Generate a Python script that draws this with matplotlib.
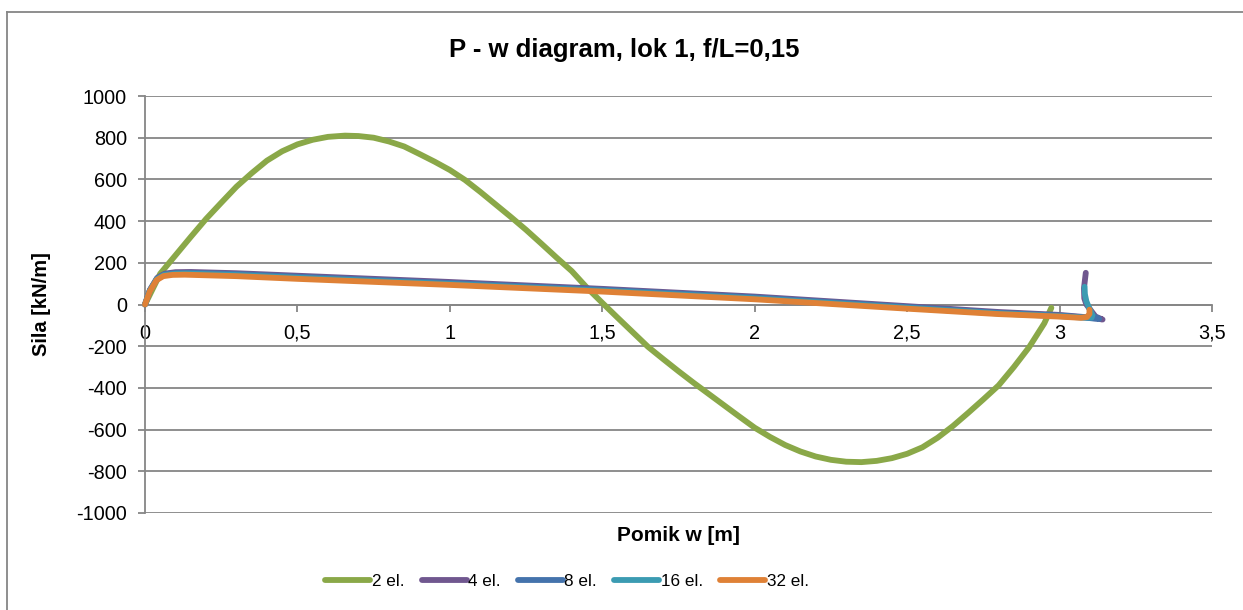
import matplotlib
matplotlib.use("Agg")
import matplotlib.pyplot as plt
from matplotlib.lines import Line2D

# Load-displacement paths for different numbers of elements
w_2el = [0, 0.05, 0.10, 0.15, 0.20, 0.25, 0.30, 0.35, 0.40, 0.45, 0.50, 0.55, 0.60,
         0.656, 0.70, 0.75, 0.80, 0.85, 0.90, 0.95, 1.00, 1.05, 1.10, 1.15, 1.20,
         1.25, 1.30, 1.35, 1.40, 1.45, 1.50, 1.55, 1.60, 1.65, 1.70, 1.75, 1.80,
         1.85, 1.90, 1.95, 2.00, 2.05, 2.10, 2.15, 2.20, 2.25, 2.30, 2.35, 2.40,
         2.45, 2.50, 2.55, 2.60, 2.65, 2.70, 2.75, 2.80, 2.85, 2.90, 2.95, 2.973]
P_2el = [0, 148, 236, 324, 410, 488, 565, 630, 690, 735, 768, 790, 804,
         810, 808, 800, 782, 758, 722, 685, 645, 597, 540, 480, 420,
         358, 292, 225, 160, 80, 8, -63, -133, -203, -262, -320, -376,
         -430, -484, -538, -591, -635, -674, -705, -729, -745, -754, -756, -750,
         -737, -716, -685, -639, -583, -520, -455, -388, -300, -205, -90, -16]

w_4el = [0, 0.016, 0.04, 0.065, 0.10, 0.15, 0.3, 0.5, 1.0, 1.5, 2.0, 2.5, 2.8, 3.0,
         3.08, 3.12, 3.141, 3.118, 3.104, 3.088, 3.081, 3.080, 3.086]
P_4el = [0, 70, 128, 148, 155, 156, 150, 138, 108, 75, 38, -8, -36, -50,
         -60, -67, -72, -58, -31, 0, 30, 78, 152]

w_8el = [0, 0.016, 0.04, 0.065, 0.10, 0.15, 0.3, 0.5, 1.0, 1.5, 2.0, 2.5, 2.8, 3.0,
         3.08, 3.11, 3.13, 3.115]
P_8el = [0, 68, 124, 145, 151, 152, 146, 133, 103, 71, 34, -12, -40, -53,
         -62, -67, -69, -58]

w_16el = [0, 0.016, 0.038, 0.062, 0.10, 0.14, 0.3, 0.5, 1.0, 1.5, 2.0, 2.5, 2.8, 3.0,
          3.08, 3.105, 3.108, 3.098, 3.088, 3.083, 3.082]
P_16el = [0, 66, 121, 141, 147, 148, 141, 128, 98, 66, 29, -16, -43, -56,
          -63, -63, -50, -20, 15, 50, 85]

w_32el = [0, 0.016, 0.038, 0.06, 0.09, 0.13, 0.3, 0.5, 1.0, 1.5, 2.0, 2.5, 2.8, 3.0,
          3.07, 3.09, 3.098, 3.098]
P_32el = [0, 64, 117, 136, 142, 143, 136, 123, 94, 62, 25, -20, -46, -58,
          -64, -60, -45, -25]

series_labels = ["2 el.", "4 el.", "8 el.", "16 el.", "32 el."]
series_colors = ["#8AA848", "#70578F", "#4473AC", "#3B9BB2", "#DF8136"]

x_ticks = [0, 0.5, 1, 1.5, 2, 2.5, 3, 3.5]
x_tick_labels = ["0", "0,5", "1", "1,5", "2", "2,5", "3", "3,5"]
y_ticks = [-1000, -800, -600, -400, -200, 0, 200, 400, 600, 800, 1000]

title = "P - w diagram, lok 1, f/L=0,15"
x_label = "Pomik w [m]"
y_label = "Sila [kN/m]"

plt.rcParams["font.family"] = ["Liberation Sans", "DejaVu Sans"]

W, H = 1243, 610
fig = plt.figure(figsize=(W / 100, H / 100), dpi=100)
ax = fig.add_axes([145 / W, 1 - 513 / H, (1212 - 145) / W, (513 - 96) / H])

grey = "#868686"

# chart frame (top and left edges)
fig.add_artist(Line2D([7 / W, 7 / W], [1 - 12 / H, 0], transform=fig.transFigure,
                      color=grey, lw=1.3))
fig.add_artist(Line2D([7 / W, 1], [1 - 12 / H, 1 - 12 / H], transform=fig.transFigure,
                      color=grey, lw=1.3))

ax.set_xlim(0, 3.5)
ax.set_ylim(-1000, 1000)
ax.set_yticks(y_ticks)
ax.set_yticklabels([str(v) for v in y_ticks])
ax.set_xticks(x_ticks)
ax.set_xticklabels(x_tick_labels)

ax.grid(axis="y", color=grey, lw=1.3)
ax.set_axisbelow(True)
for s in ["top", "right"]:
    ax.spines[s].set_visible(False)
ax.spines["left"].set_color(grey)
ax.spines["left"].set_linewidth(1.3)
ax.spines["bottom"].set_position(("data", 0))
ax.spines["bottom"].set_color(grey)
ax.spines["bottom"].set_linewidth(1.3)

ax.tick_params(axis="y", direction="out", length=5, width=1.3, color=grey,
               labelsize=14.3, pad=8)
ax.tick_params(axis="x", direction="out", length=5, width=1.3, color=grey,
               labelsize=14.3, pad=9)

data = [(w_2el, P_2el), (w_4el, P_4el), (w_8el, P_8el), (w_16el, P_16el), (w_32el, P_32el)]
for (w, p), lab, col in zip(data, series_labels, series_colors):
    ax.plot(w, p, color=col, lw=4.2, label=lab, solid_capstyle="round",
            solid_joinstyle="round", clip_on=False, zorder=3)

fig.text(624 / W, 1 - 50 / H, title, fontsize=18.5, fontweight="bold",
         ha="center", va="center")
ax.set_xlabel(x_label, fontsize=15, fontweight="bold", labelpad=0)
ax.xaxis.set_label_coords(0.5, -0.03)
ax.set_ylabel(y_label, fontsize=14.5, fontweight="bold", labelpad=18)

legend_size = 12.3
em_px = legend_size * 100 / 72
leg = fig.legend(loc="center", bbox_to_anchor=(567 / W, 1 - 581 / H), ncol=5,
                 frameon=False, fontsize=legend_size, handlelength=45 / em_px,
                 handletextpad=0.1, columnspacing=17 / em_px)
for h in leg.get_lines():
    h.set_linewidth(4.2)
    h.set_solid_capstyle("round")

fig.savefig("out.png", dpi=100, facecolor="white")
